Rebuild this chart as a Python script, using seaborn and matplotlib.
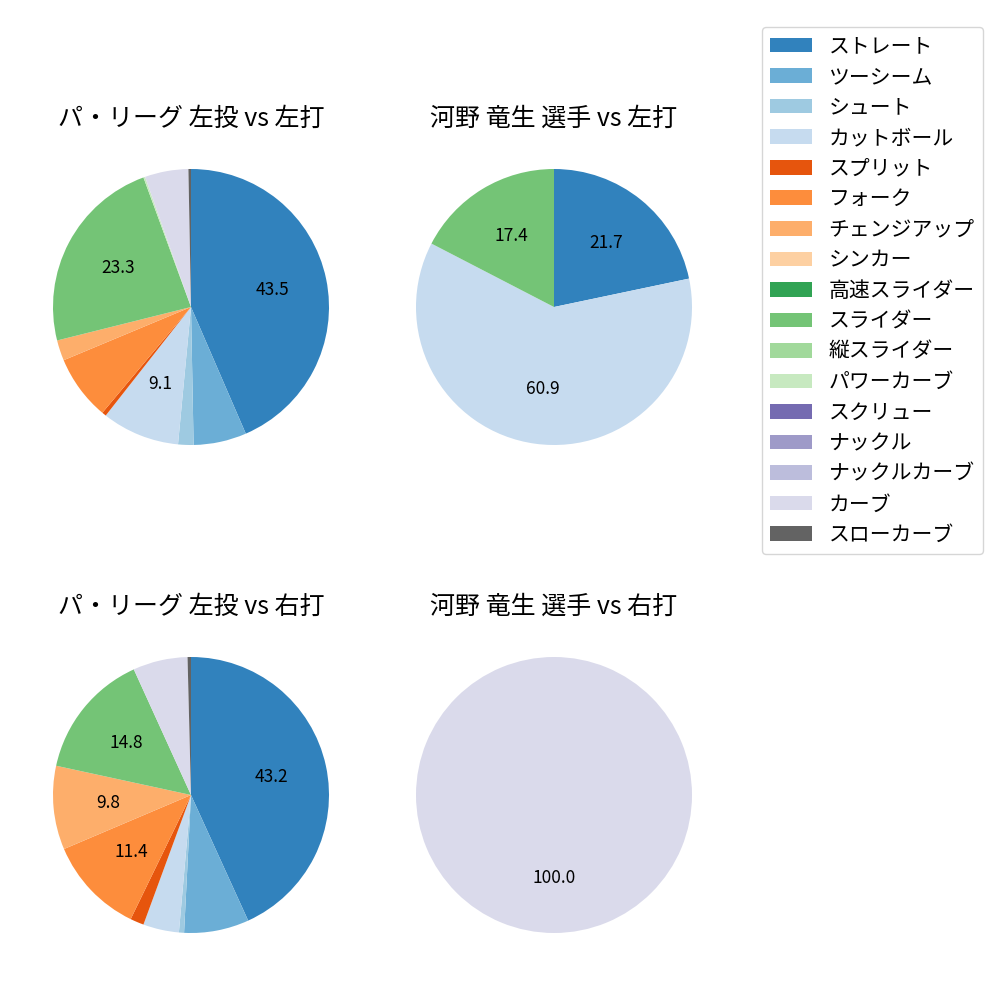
import matplotlib
matplotlib.use("Agg")
import matplotlib.pyplot as plt
from matplotlib.patches import Patch
import seaborn as sns

plt.rcParams['font.family'] = ['Noto Sans CJK JP', 'DejaVu Sans']

# pitch types (legend order) and tab20c colours
pitch_types = ['ストレート', 'ツーシーム', 'シュート', 'カットボール', 'スプリット', 'フォーク',
               'チェンジアップ', 'シンカー', '高速スライダー', 'スライダー', '縦スライダー',
               'パワーカーブ', 'スクリュー', 'ナックル', 'ナックルカーブ', 'カーブ', 'スローカーブ']
palette = sns.color_palette('tab20c', 20)
color_map = {p: palette[i] for i, p in enumerate(pitch_types)}

# percentages
league_vs_left_types = ['ストレート', 'ツーシーム', 'シュート', 'カットボール', 'スプリット', 'フォーク',
                        'チェンジアップ', 'スライダー', 'パワーカーブ', 'カーブ', 'スローカーブ']
league_vs_left = [43.5, 6.2, 1.8, 9.1, 0.5, 7.6, 2.4, 23.3, 0.2, 5.1, 0.3]

player_vs_left_types = ['ストレート', 'カットボール', 'スライダー']
player_vs_left = [21.7, 60.9, 17.4]

league_vs_right_types = ['ストレート', 'ツーシーム', 'シュート', 'カットボール', 'スプリット', 'フォーク',
                         'チェンジアップ', 'スライダー', 'カーブ', 'スローカーブ']
league_vs_right = [43.2, 7.6, 0.6, 4.2, 1.6, 11.4, 9.8, 14.8, 6.4, 0.4]

player_vs_right_types = ['カーブ']
player_vs_right = [100.0]

titles = ['パ・リーグ 左投 vs 左打', '河野 竜生 選手 vs 左打',
          'パ・リーグ 左投 vs 右打', '河野 竜生 選手 vs 右打']
data = [(league_vs_left_types, league_vs_left),
        (player_vs_left_types, player_vs_left),
        (league_vs_right_types, league_vs_right),
        (player_vs_right_types, player_vs_right)]

fig = plt.figure(figsize=(10, 10), dpi=100)
positions = [[0.0185, 0.5205, 0.345, 0.345],
             [0.3815, 0.5205, 0.345, 0.345],
             [0.0185, 0.0325, 0.345, 0.345],
             [0.3815, 0.0325, 0.345, 0.345]]

for pos, title, (types, vals) in zip(positions, titles, data):
    ax = fig.add_axes(pos)
    ax.pie(vals, colors=[color_map[t] for t in types], startangle=90, counterclock=False,
           autopct=lambda p: f'{p:.1f}' if p >= 9 else '',
           textprops={'fontsize': 12.5})
    ax.set_title(title, fontsize=18)

handles = [Patch(facecolor=color_map[p], label=p) for p in pitch_types]
fig.legend(handles=handles, loc='upper right', bbox_to_anchor=(0.983, 0.973),
           borderaxespad=0, fontsize=15, labelspacing=0.41)

fig.savefig('out.png', dpi=100)
